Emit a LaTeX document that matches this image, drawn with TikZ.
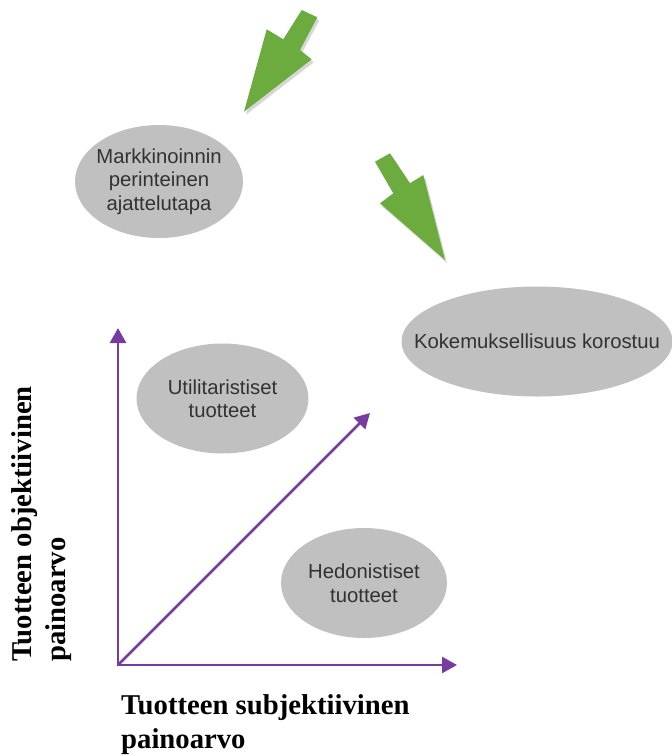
\documentclass[tikz,border=0pt]{standalone}
\usepackage{fontspec}
\setmainfont{Liberation Serif}
\newfontfamily\bubblesans{Liberation Sans}
\usetikzlibrary{shapes.geometric,arrows.meta}
\definecolor{leaf}{RGB}{108,172,62}
\definecolor{axispurple}{RGB}{118,60,160}
\definecolor{bubblegray}{RGB}{192,192,192}
\definecolor{ink}{RGB}{50,50,50}
\tikzset{
  bubble/.style={ellipse, fill=bubblegray, inner sep=0pt},
  bubbletext/.style={text=ink, align=center, inner sep=0pt,
    font=\bubblesans\fontsize{20.3}{23.5}\selectfont},
  axis/.style={draw=axispurple, line width=2.6pt, line cap=rect,
    -{Triangle[length=15pt,width=16pt]}},
  axislabel/.style={font=\bfseries\fontsize{28.7}{34}\selectfont,
    align=left, inner sep=0pt, text=black},
  leafarrow/.style={fill=leaf},
  leafshadow/.style={fill=black, opacity=0.16},
}
\begin{document}
\begin{tikzpicture}[x=1pt,y=-1pt]
\useasboundingbox (0,0) rectangle (672,756);

% green pointer arrows with a soft offset shadow
\fill[leafshadow] (303.7,13) -- (319.3,20.3) -- (302,53) -- (313.7,62.3)
  -- (246,114.7) -- (268.7,32.3) -- (285.3,42.3) -- cycle;
\fill[leafarrow] (301.7,10) -- (317.3,17.3) -- (300,50) -- (311.7,59.3)
  -- (244,111.7) -- (266.7,29.3) -- (283.3,39.3) -- cycle;

\fill[leafshadow] (377,164.7) -- (392,156.3) -- (412,186.3) -- (425.3,178)
  -- (447,263) -- (382,206.3) -- (395.3,196.3) -- cycle;
\fill[leafarrow] (375,161.7) -- (390,153.3) -- (410,183.3) -- (423.3,175)
  -- (445,260) -- (380,203.3) -- (393.3,193.3) -- cycle;

% grey ellipses
\node[bubble, minimum width=168pt, minimum height=113pt] (trad) at (159,181.5) {};
\node[bubbletext] at (trad.center) {Markkinoinnin\\perinteinen\\ajattelutapa};

\node[bubble, minimum width=271pt, minimum height=110pt] (exp) at (537,341.5) {};
\node[bubbletext] at (exp.center) {Kokemuksellisuus korostuu};

\node[bubble, minimum width=172pt, minimum height=110pt] (util) at (222.5,398.5) {};
\node[bubbletext] at (util.center) {Utilitaristiset\\tuotteet};

\node[bubble, minimum width=166pt, minimum height=110pt] (hed) at (364,583) {};
\node[bubbletext] at (hed.center) {Hedonistiset\\tuotteet};

% axes
\coordinate (origin) at (118,665);
\coordinate (ytip) at (118,328);
\coordinate (xtip) at (457,665);
\coordinate (dtip) at (370,413);
\draw[axis] (origin) -- (ytip);
\draw[axis] (origin) -- (xtip);
\draw[axis, line cap=butt] (origin) -- (dtip);

% axis titles
\node[axislabel, rotate=90, anchor=north west] (ylab) at (11,662)
  {Tuotteen objektiivinen\\painoarvo};
\node[axislabel, anchor=north west] (xlab) at (121,694)
  {Tuotteen subjektiivinen\\painoarvo};
\end{tikzpicture}
\end{document}
